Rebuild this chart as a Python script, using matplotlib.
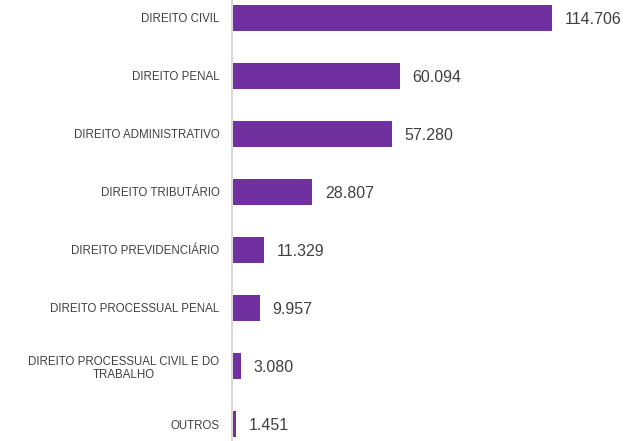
import matplotlib.pyplot as plt

# Categories and values
categories = ['DIREITO CIVIL', 'DIREITO PENAL', 'DIREITO ADMINISTRATIVO',
              'DIREITO TRIBUTÁRIO', 'DIREITO PREVIDENCIÁRIO',
              'DIREITO PROCESSUAL PENAL',
              'DIREITO PROCESSUAL CIVIL E DO\nTRABALHO', 'OUTROS']
values = [114706, 60094, 57280, 28807, 11329, 9957, 3080, 1451]
value_labels = ['114.706', '60.094', '57.280', '28.807', '11.329', '9.957', '3.080', '1.451']

plt.rcParams['font.family'] = ['Liberation Sans', 'DejaVu Sans']

fig = plt.figure(figsize=(6.26, 4.41), dpi=100)
ax = fig.add_axes([232 / 626, 0, 1 - 232 / 626, 1])

y = list(range(len(categories)))
ax.barh(y, values, height=0.45, color='#7030A0')

for yi, v, lab in zip(y, values, value_labels):
    ax.text(v + 4600, yi + 0.02, lab, va='center', ha='left', fontsize=11.5, color='#404040')

ax.set_yticks(y)
ax.set_yticklabels(categories, fontsize=8.3, color='#404040', ha='right',
                   multialignment='center', linespacing=1.15)
ax.tick_params(axis='y', length=0, pad=9)
ax.set_xticks([])
ax.set_xlim(0, 141200)
ax.set_ylim(7.293, -0.31)

for side in ['top', 'right', 'bottom']:
    ax.spines[side].set_visible(False)
ax.spines['left'].set_color('#D9D9D9')
ax.spines['left'].set_linewidth(1.5)

fig.savefig('out.png', dpi=100)
